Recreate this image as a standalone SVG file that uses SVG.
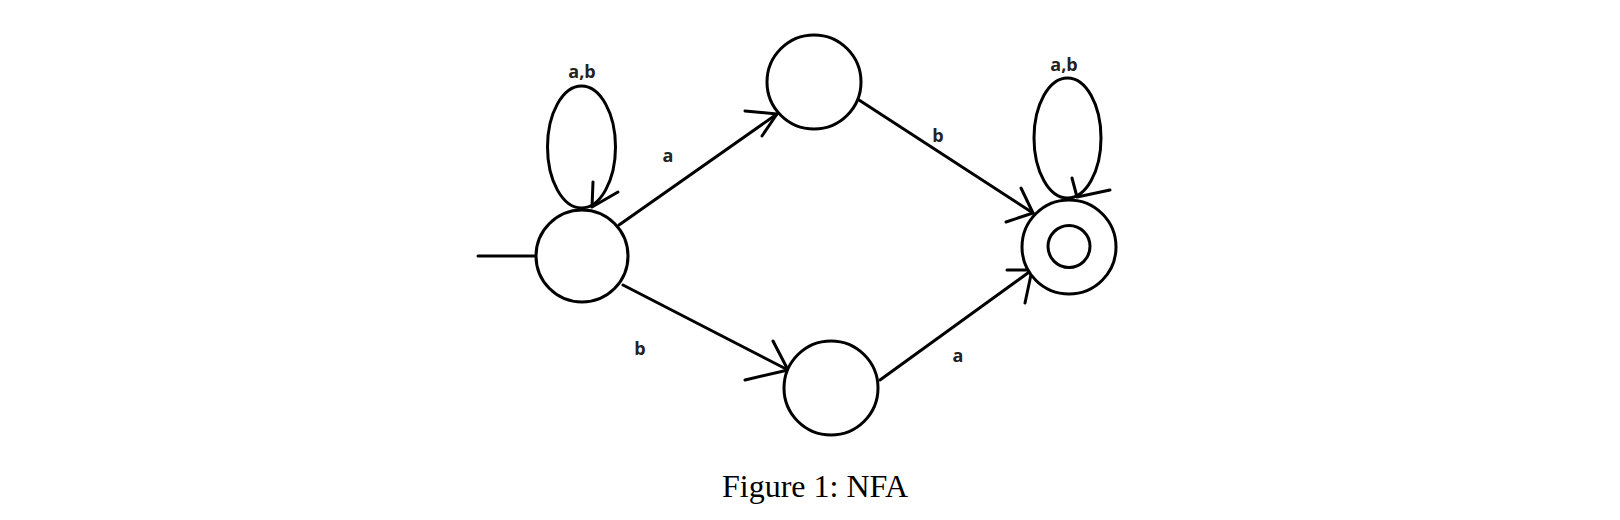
<svg xmlns="http://www.w3.org/2000/svg" width="1620" height="520" viewBox="0 0 1620 520">
<style>
.st{fill:#fff;stroke:#000;stroke-width:3}
.ln{fill:none;stroke:#000;stroke-width:3;stroke-linecap:round;stroke-linejoin:round}
.lb{font-family:"Open Sans","DejaVu Sans",sans-serif;font-weight:bold;font-size:18px;fill:#222;text-anchor:middle}
.cap{font-family:"Liberation Serif","Times New Roman",serif;font-size:32px;fill:#000;text-anchor:middle}
</style>
<rect width="1620" height="520" fill="#fff"/>
<g id="connectors">
<path class="ln" d="M478,256 L536,256"/>
<ellipse class="ln" cx="581.5" cy="147" rx="34" ry="61"/>
<path class="ln" d="M593,182 L592,207 L618,192"/>
<path class="ln" d="M619,225 L777,114"/>
<path class="ln" d="M745,111 L777,114 L762,136"/>
<path class="ln" d="M623,285 L788,370"/>
<path class="ln" d="M773,341 L788,370 L745,380"/>
<path class="ln" d="M859,100 L1033,213"/>
<path class="ln" d="M1021,188 L1033,213 L1006,222"/>
<path class="ln" d="M880,380 L1032,270"/>
<path class="ln" d="M1007,270 L1032,270 L1025,303"/>
<ellipse class="ln" cx="1067.5" cy="138" rx="33.5" ry="60"/>
<path class="ln" d="M1072,178 L1077,197 L1110,190"/>
</g>
<g id="q0"><circle class="st" cx="582" cy="256" r="46"/></g>
<g id="q1"><circle class="st" cx="814" cy="82" r="47"/></g>
<g id="q2"><circle class="st" cx="831" cy="388" r="47"/></g>
<g id="q3"><circle class="st" cx="1069" cy="247" r="47"/><circle class="st" cx="1069" cy="246.5" r="21"/></g>
<g id="labels">
<text class="lb" x="582" y="78">a,b</text>
<text class="lb" x="1064" y="71">a,b</text>
<text class="lb" x="668" y="162">a</text>
<text class="lb" x="938" y="142">b</text>
<text class="lb" x="640" y="355">b</text>
<text class="lb" x="958" y="362">a</text>
</g>
<text class="cap" x="815" y="497">Figure 1: NFA</text>
</svg>
